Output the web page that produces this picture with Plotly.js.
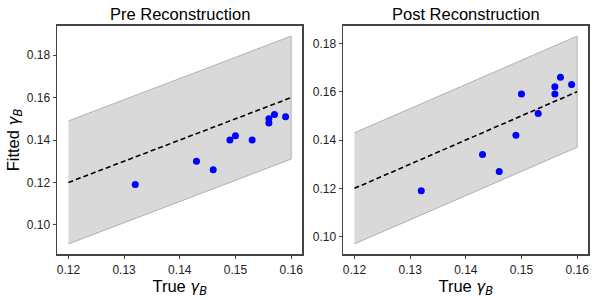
<!DOCTYPE html>
<html>
<head>
<meta charset="utf-8">
<script src="https://cdn.plot.ly/plotly-3.0.1.min.js"></script>
<style>html,body{margin:0;padding:0;background:#fff;}#chart{width:600px;height:300px;}</style>
</head>
<body>
<div id="chart"></div>
<script>
// ---- data ----
const trueGamma = [0.132, 0.143, 0.146, 0.149, 0.150, 0.153, 0.156, 0.156, 0.157, 0.159];
const fittedPre = [0.119, 0.130, 0.126, 0.140, 0.142, 0.140, 0.150, 0.148, 0.152, 0.151];
const fittedPost = [0.119, 0.134, 0.127, 0.142, 0.159, 0.151, 0.162, 0.159, 0.166, 0.163];
const lineX = [0.12, 0.16];
const lineY = [0.12, 0.16];
const preLower = [0.091, 0.131];
const preUpper = [0.149, 0.189];
const postLower = [0.097, 0.137];
const postUpper = [0.143, 0.183];
const panelTitles = ["Pre Reconstruction", "Post Reconstruction"];
const xTicks = [0.12, 0.13, 0.14, 0.15, 0.16];
const yTicks = [0.10, 0.12, 0.14, 0.16, 0.18];

const gammaB = '<span style="font-family:DejaVu Sans;font-style:italic;font-size:15px">γ</span><sub><span style="font-family:DejaVu Sans;font-style:italic">B</span></sub>';

function panel(lower, upper, fitted, xa, ya) {
  const bandX = lineX.concat(lineX.slice().reverse());
  const bandY = upper.concat(lower.slice().reverse());
  return [
    {x: bandX, y: bandY, xaxis: xa, yaxis: ya, type: 'scatter', mode: 'lines',
     fill: 'toself', fillcolor: '#d9d9d9', line: {color: '#b0b0b0', width: 1},
     hoverinfo: 'skip', showlegend: false},
    {x: lineX, y: lineY, xaxis: xa, yaxis: ya, type: 'scatter', mode: 'lines',
     line: {color: '#000', width: 1.6, dash: '5px,3px'}, showlegend: false},
    {x: trueGamma, y: fitted, xaxis: xa, yaxis: ya, type: 'scatter', mode: 'markers',
     marker: {color: '#0000ff', size: 7}, showlegend: false}
  ];
}

const data = panel(preLower, preUpper, fittedPre, 'x', 'y')
  .concat(panel(postLower, postUpper, fittedPost, 'x2', 'y2'));

const axCommon = {
  showline: true, mirror: true, linecolor: '#444', linewidth: 1.3,
  showgrid: false, zeroline: false,
  ticks: 'outside', ticklen: 3.5, tickwidth: 1, tickcolor: '#444',
  tickfont: {family: 'Liberation Sans, Arial, sans-serif', size: 12, color: '#222'},
  tickformat: '.2f'
};
const titleFont = {family: 'Liberation Sans, Arial, sans-serif', size: 16.5, color: '#000'};

const layout = {
  width: 600, height: 300,
  margin: {l: 0, r: 0, t: 0, b: 0},
  paper_bgcolor: '#fff', plot_bgcolor: '#fff',
  xaxis: Object.assign({}, axCommon, {domain: [0.0955, 0.5038], range: [0.118, 0.162], tickvals: xTicks, anchor: 'y',
    title: {text: 'True ' + gammaB, font: titleFont, standoff: 3}}),
  yaxis: Object.assign({}, axCommon, {domain: [0.1523, 0.9143], range: [0.0861, 0.1939], tickvals: yTicks, anchor: 'x',
    title: {text: 'Fitted ' + gammaB, font: titleFont, standoff: 3}}),
  xaxis2: Object.assign({}, axCommon, {domain: [0.5722, 0.9805], range: [0.118, 0.162], tickvals: xTicks, anchor: 'y2',
    title: {text: 'True ' + gammaB, font: titleFont, standoff: 3}}),
  yaxis2: Object.assign({}, axCommon, {domain: [0.1523, 0.9143], range: [0.0927, 0.1873], tickvals: yTicks, anchor: 'x2'}),
  annotations: [
    {text: panelTitles[0], xref: 'paper', yref: 'paper', x: (0.0955 + 0.5038) / 2, y: 0.9143,
     xanchor: 'center', yanchor: 'bottom', yshift: 1, showarrow: false, font: titleFont},
    {text: panelTitles[1], xref: 'paper', yref: 'paper', x: (0.5722 + 0.9805) / 2, y: 0.9143,
     xanchor: 'center', yanchor: 'bottom', yshift: 1, showarrow: false, font: titleFont}
  ]
};

Plotly.newPlot('chart', data, layout, {staticPlot: true, displayModeBar: false});
</script>
</body>
</html>
